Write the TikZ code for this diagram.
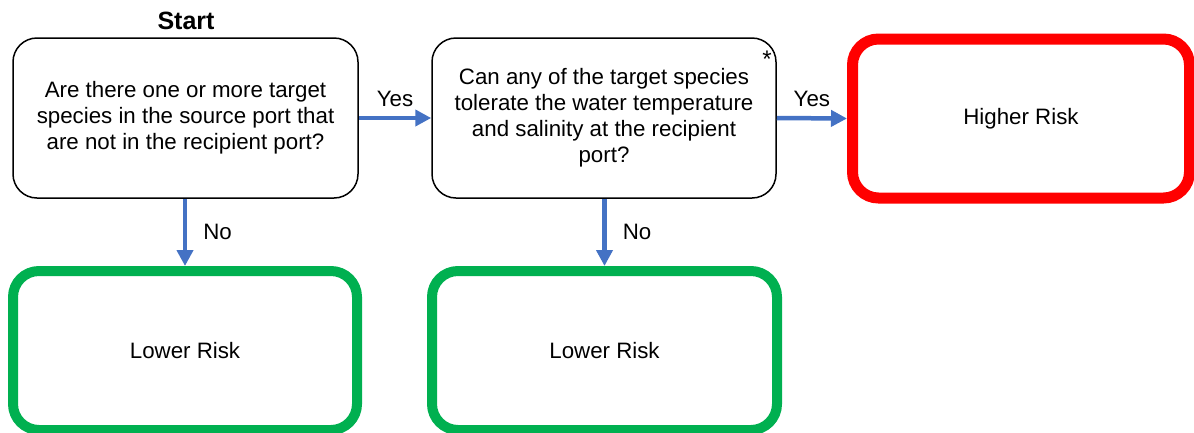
\documentclass[tikz,border=0pt]{standalone}
\usepackage{fontspec}
\setmainfont{Liberation Sans}
\usetikzlibrary{arrows.meta}
\definecolor{arrowblue}{RGB}{68,114,196}
\definecolor{lowgreen}{RGB}{0,176,80}
\definecolor{highred}{RGB}{255,0,0}
\tikzset{
  qbox/.style={draw=black, line width=1.5pt, rounded corners=24pt, fill=white, align=center, font=\fontsize{22.3}{26}\selectfont},
  riskbox/.style={rounded corners=26pt, fill=white, align=center, font=\fontsize{22.3}{26}\selectfont},
  flow/.style={draw=arrowblue, line width=4.5pt, -{Triangle[length=16pt,width=16pt]}},
  lbl/.style={font=\fontsize{22.3}{26}\selectfont, inner sep=0pt},
}
\begin{document}
\begin{tikzpicture}[x=1pt,y=-1pt]
\useasboundingbox (0,0) rectangle (1194,432);
\node[qbox, minimum width=345pt, minimum height=160pt] (q1) at (185.5,118) {\raisebox{-2pt}{\begin{tabular}{@{}c@{}}Are there one or more target\\species in the source port that\\are not in the recipient port?\end{tabular}}};
\node[qbox, minimum width=344pt, minimum height=160pt] (q2) at (604,118) {\raisebox{-2pt}{\begin{tabular}{@{}c@{}}Can any of the target species\\tolerate the water temperature\\and salinity at the recipient\\port?\end{tabular}}};
\node[riskbox, draw=highred, line width=11pt, minimum width=337pt, minimum height=159pt] (hi) at (1021,118.5) {\raisebox{-2pt}{Higher Risk}};
\node[riskbox, draw=lowgreen, line width=10pt, minimum width=344pt, minimum height=159pt] (lo1) at (185,350.5) {\raisebox{-2.5pt}{Lower Risk}};
\node[riskbox, draw=lowgreen, line width=10pt, minimum width=345pt, minimum height=159pt] (lo2) at (604.5,350.5) {\raisebox{-2.5pt}{Lower Risk}};
\node[lbl, font=\fontsize{25}{28}\selectfont\bfseries] (start) at (186,21) {Start};
\node[lbl, font=\fontsize{24}{28}\selectfont] (star) at (767,59) {*};
\draw[flow] (q1.east) -- (q2.west) node[lbl, midway, above=9pt] (y1) {Yes};
\draw[flow] (q2.east) -- (hi.west) node[lbl, midway, above=9pt] (y2) {Yes};
\draw[flow] (q1.south -| lo1.north) -- (lo1.north) node[lbl, midway, right=16pt] (n1) {No};
\draw[flow] (q2.south -| lo2.north) -- (lo2.north) node[lbl, midway, right=16pt] (n2) {No};
\end{tikzpicture}
\end{document}
